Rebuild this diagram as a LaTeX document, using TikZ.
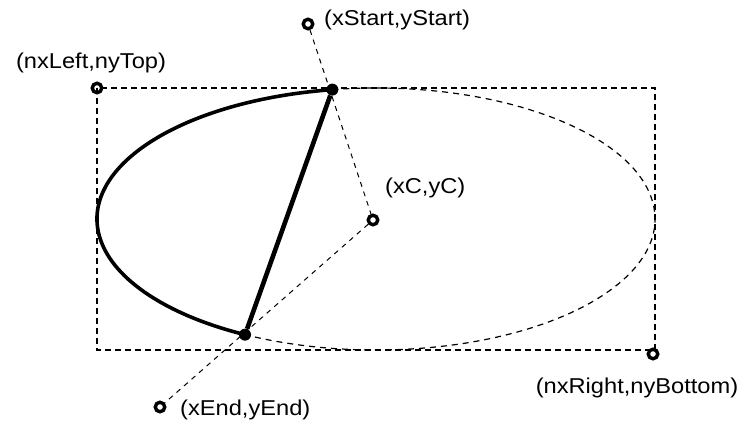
\documentclass[tikz,border=0pt]{standalone}
\usepackage{fontspec}
\setmainfont[FakeStretch=1.1]{Liberation Sans}
\usetikzlibrary{calc}
\begin{document}
\begin{tikzpicture}[x=1pt,y=1pt,
  hole/.style={circle,draw,line width=3.4pt,minimum size=9.5pt,inner sep=0pt},
  dot/.style={circle,fill,minimum size=12pt,inner sep=0pt},
  lbl/.style={inner sep=0pt,font=\fontsize{21.5}{24}\selectfont},
  boxdash/.style={line width=1.3pt,dash pattern=on 6pt off 4pt},
  raydash/.style={line width=1pt,dash pattern=on 5pt off 5pt},
  elldash/.style={line width=1.2pt,dash pattern=on 6pt off 5pt},
  thickarc/.style={line width=3.6pt},
  chord/.style={line width=4.6pt}]
\useasboundingbox (0,0) rectangle (749,-424);
% frame
\coordinate (TL) at (97,-88);
\coordinate (BR) at (655,-350);
\coordinate (C) at (376,-219);
\draw[boxdash] (TL) rectangle (BR);
% points on the ellipse
\coordinate (S) at ($(C)+(99:279 and 131)$);
\coordinate (E) at ($(C)+(242:279 and 131)$);
% dashed remainder of the ellipse
\draw[elldash] (S) arc[start angle=99,end angle=-118,x radius=279,y radius=131];
% markers
\node[hole] (tl) at (97,-88) {};
\node[hole] (br) at (653,-354) {};
\node[hole] (cc) at (373,-220) {};
\node[hole] (st) at (308,-24) {};
\node[hole] (en) at (160,-407) {};
% rays
\draw[raydash] (st) -- (cc);
\draw[raydash] (cc) -- (en);
% pie boundary
\draw[thickarc] (S) arc[start angle=99,end angle=242,x radius=279,y radius=131];
\node[dot] (s) at (S) {};
\node[dot] (e) at (E) {};
\draw[chord] (e) -- (s);
% labels
\node[lbl,anchor=west] (lst) at (324,-20) {(xStart,yStart)};
\node[lbl] (ltl) at (91,-63) {(nxLeft,nyTop)};
\node[lbl,anchor=west] (lc) at (385,-188) {(xC,yC)};
\node[lbl,anchor=west] (len) at (180,-410) {(xEnd,yEnd)};
\node[lbl] (lbr) at (637,-388) {(nxRight,nyBottom)};
\end{tikzpicture}
\end{document}
